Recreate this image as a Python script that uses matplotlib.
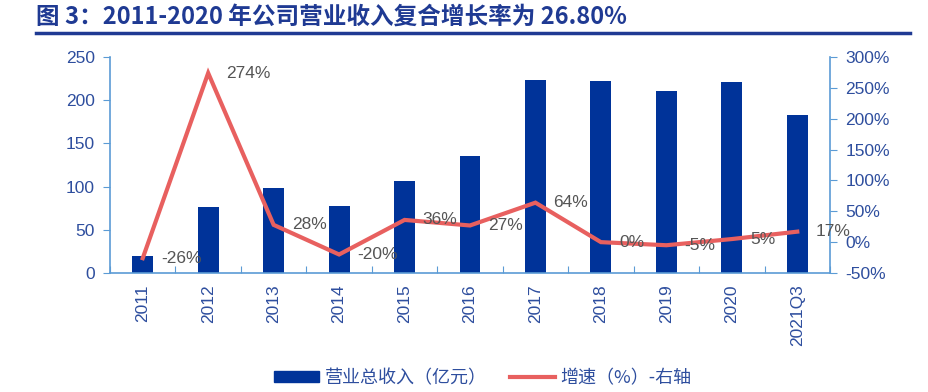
import matplotlib
matplotlib.use("Agg")
import matplotlib.pyplot as plt
from matplotlib.lines import Line2D
import numpy as np

plt.rcParams['font.family'] = ['Liberation Sans', 'Noto Sans CJK SC', 'DejaVu Sans']

categories = ['2011', '2012', '2013', '2014', '2015', '2016', '2017', '2018', '2019', '2020', '2021Q3']
revenue = [20, 76, 98, 78, 107, 135, 223, 222, 211, 221, 183]
growth = [-26, 274, 28, -20, 36, 27, 64, 0, -5, 5, 17]
growth_labels = ['-26%', '274%', '28%', '-20%', '36%', '27%', '64%', '0%', '-5%', '5%', '17%']
left_ticks = [0, 50, 100, 150, 200, 250]
right_ticks = [-50, 0, 50, 100, 150, 200, 250, 300]

bar_color = '#003399'
line_color = '#E8605F'
axis_color = '#5B9BD5'
tick_color = '#2E4E9E'
title_color = '#1F3A93'

fig = plt.figure(figsize=(9.29, 3.92), dpi=100)
ax = fig.add_axes([110/929, 1-273/392, 720/929, 216/392])
x = np.arange(len(categories))
ax.bar(x, revenue, width=0.32, color=bar_color, zorder=2)
ax.set_xlim(-0.5, len(categories)-0.5)
ax.set_ylim(0, 250)
ax.set_yticks(left_ticks)
ax.set_xticks(np.arange(-0.5, len(categories), 1.0), minor=False)
ax.set_xticklabels([])
ax.set_xticks(x, minor=True)
ax.set_xticklabels(categories, minor=True, rotation=90)
ax.tick_params(axis='x', which='minor', length=0, pad=8, labelsize=12.5, labelcolor=tick_color)
ax.tick_params(axis='x', which='major', length=5, direction='in', color=axis_color)
ax.tick_params(axis='y', length=5, direction='out', color=axis_color, labelsize=12.5, labelcolor=tick_color, pad=6)

for s in ['top', 'right']:
    ax.spines[s].set_visible(False)
for s in ['left', 'bottom']:
    ax.spines[s].set_color(axis_color)
    ax.spines[s].set_linewidth(1.2)

ax2 = ax.twinx()
ax2.plot(x, growth, color=line_color, lw=3, zorder=3, solid_joinstyle='miter')
ax2.set_ylim(-50, 300)
ax2.set_yticks(right_ticks)
ax2.set_yticklabels([f'{v}%' for v in right_ticks])
ax2.tick_params(axis='y', length=5, direction='out', color=axis_color, labelsize=12.5, labelcolor=tick_color, pad=6)
for s in ['top', 'left', 'bottom']:
    ax2.spines[s].set_visible(False)
ax2.spines['right'].set_color(axis_color)
ax2.spines['right'].set_linewidth(1.2)

for xi, yi, lab in zip(x, growth, growth_labels):
    ax2.annotate(lab, (xi, yi), xytext=(13, 0), textcoords='offset points',
                 ha='left', va='center', fontsize=12.5, color='#555555', zorder=4)

fig.text(36/929, 1-17/392, '图 3：2011-2020 年公司营业收入复合增长率为 26.80%',
         fontsize=17, fontweight='bold', color=title_color, va='center', ha='left',
         family=['Noto Sans CJK SC', 'DejaVu Sans'])
fig.add_artist(Line2D([36/929, 910/929], [1-33/392, 1-33/392], color='#1F3A93', lw=2.5))

handles = [plt.Rectangle((0, 0), 1, 1, color=bar_color),
           Line2D([0], [0], color=line_color, lw=3)]
fig.legend(handles, ['营业总收入（亿元）', '增速（%）-右轴'], loc='center',
           bbox_to_anchor=(483/929, 1-378/392), ncol=2, frameon=False,
           prop={'family': ['Noto Sans CJK SC', 'DejaVu Sans'], 'size': 13},
           handlelength=2.5, handleheight=0.6, columnspacing=1.3, handletextpad=0.3)
for t in fig.legends[0].get_texts():
    t.set_color(tick_color)

fig.savefig('out.png', dpi=100)
